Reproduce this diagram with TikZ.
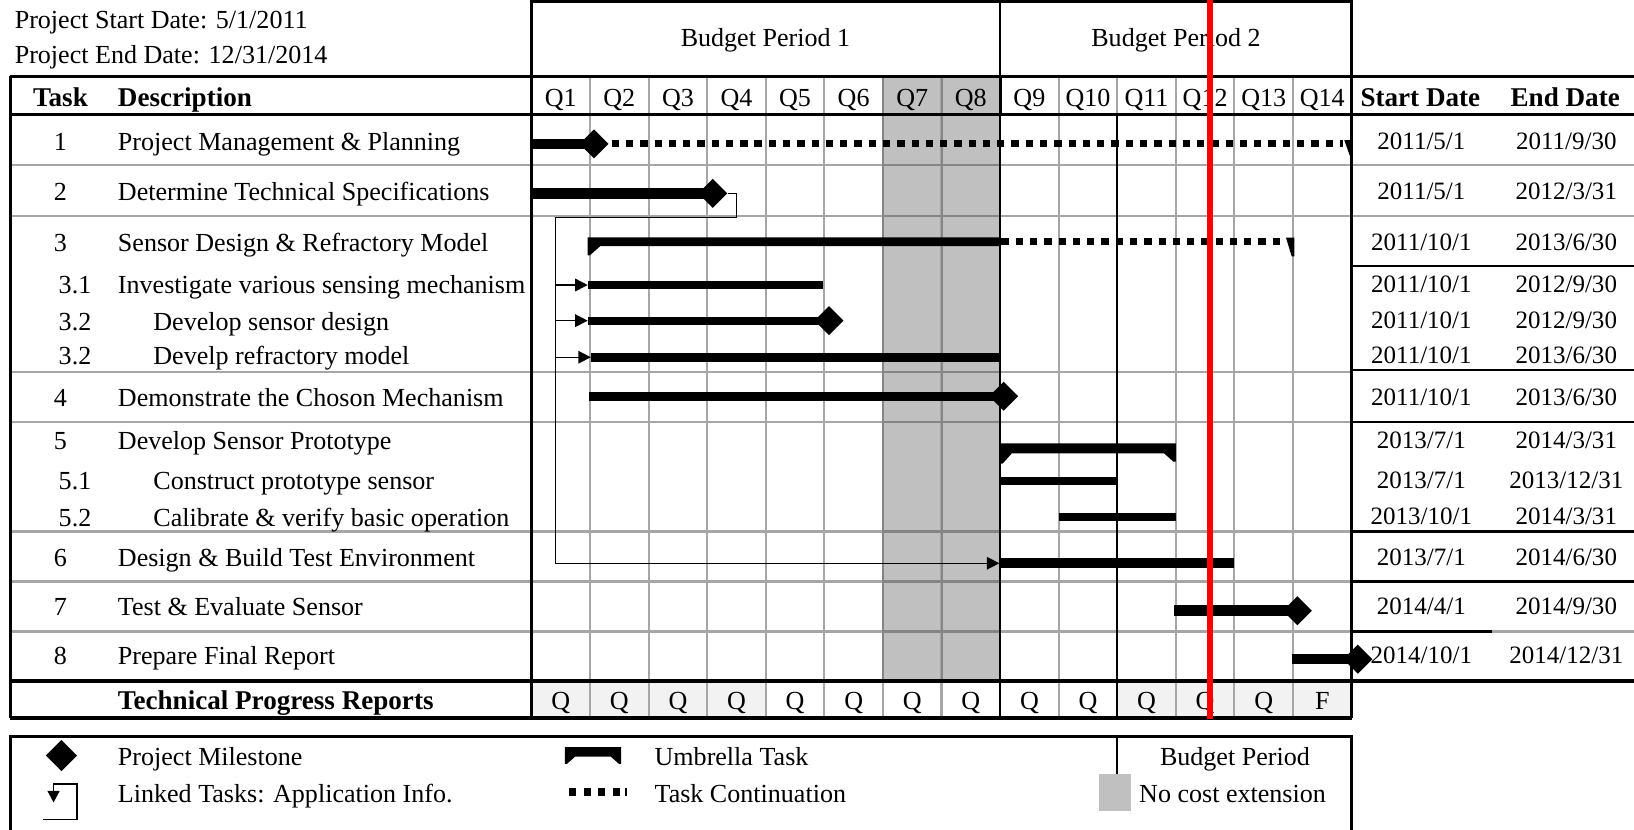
\documentclass[tikz,border=0pt]{standalone}
\usepackage{fontspec}
\setmainfont{Liberation Serif}
\usetikzlibrary{shapes.geometric,arrows.meta}
\definecolor{gridgray}{HTML}{A6A6A6}
\definecolor{darkgrid}{HTML}{858585}
\definecolor{shadegray}{HTML}{C0C0C0}
\definecolor{lightfill}{HTML}{F2F2F2}
\begin{document}
\begin{tikzpicture}[x=1pt,y=-1pt,
  txt/.style={inner sep=0pt, anchor=base, font=\fontsize{25}{30}\selectfont},
  txtl/.style={txt, anchor=base west},
  btxt/.style={inner sep=0pt, anchor=base, font=\fontsize{26}{30}\selectfont\bfseries},
  btxtl/.style={btxt, anchor=base west},
  datetxt/.style={inner sep=0pt, anchor=base, font=\fontsize{24}{29}\selectfont},
  gridln/.style={draw=gridgray, line width=2pt},
  darkln/.style={draw=darkgrid, line width=2pt},
  blk/.style={draw=black, line width=2pt},
  heavy/.style={draw=black, line width=3pt},
  milestone/.style={diamond, fill=black, inner sep=0pt, minimum width=28pt, minimum height=28pt},
  link/.style={draw=black, line width=1.4pt},
  linkarrow/.style={link, -{Triangle[length=12pt,width=12pt]}},
  contdots/.style={draw=black, line width=7pt, dash pattern=on 7pt off 6.7pt},
]
\useasboundingbox (0,0) rectangle (1568,796);
% shading
\fill[shadegray] (847.3,73) rectangle (959.7,653.5);
\fill[lightfill] (510,653.5) rectangle (734.9,689);
\fill[lightfill] (1072.1,653.5) rectangle (1297,689);
% grid verticals
\foreach \i in {1,...,13} {\draw[gridln] ({510+\i*56.214},73) -- ({510+\i*56.214},689);}
% horizontal row lines
\foreach \yy in {158,207} {\draw[gridln] (10,\yy) -- (1568,\yy);}
\foreach \yy in {357,405,510,558,606} {\draw[gridln] (10,\yy) -- (1297,\yy);}
\foreach \yy in {355,405,510,558} {\draw[blk] (1297,\yy) -- (1568,\yy);}
\draw[blk] (1297,255) -- (1568,255);
\draw[blk] (1297,606) -- (1432,606);
\draw[gridln] (1432,606) -- (1568,606);
% darker lines over the shade
\draw[darkln] (847.3,73) -- (847.3,653.5);
\draw[darkln] (903.5,73) -- (903.5,653.5);
\foreach \yy in {158,207,357,405,510,558,606} {\draw[darkln] (847.3,\yy) -- (959.7,\yy);}
% black structure
\draw[heavy] (510,1.5) rectangle (1297,73);
\draw[blk] (959.7,1.5) -- (959.7,73);
\draw[heavy] (10,73) -- (1568,73);
\draw[heavy] (10,110) -- (1568,110);
\draw[heavy] (10,73) -- (10,689);
\draw[heavy] (510,73) -- (510,110);
\draw[blk] (510,110) -- (510,689);
\draw[heavy] (1297,0) -- (1297,689);
\draw[heavy] (959.7,73) -- (959.7,110);
\draw[draw=black, line width=1.6pt] (959.7,110) -- (959.7,689);
\draw[blk] (1072.1,110) -- (1072.1,689);
\draw[heavy] (10,653.5) -- (1568,653.5);
\draw[heavy] (10,689) -- (1297,689);
% legend frame
\draw[heavy] (10,800) -- (10,707) -- (1297,707) -- (1297,800);
\draw[draw=black, line width=2.5pt] (1072,707) -- (1072,744);
\fill[shadegray] (1055,743) rectangle (1085,778);

% ---- bars ----
% Task 1
\fill (510,133) rectangle (570,143);
\draw[contdots] (587,138) -- (1289,138);
\fill (1290,134.5) -- (1298,134.5) -- (1298,150) -- (1295.5,150) -- cycle;
\node[milestone] (m1) at (570,138) {};
% Task 2
\fill (510,180.5) rectangle (684,190.5);
\node[milestone] (m2) at (684,185.5) {};
% Task 3 umbrella
\fill (564,227.8) -- (959.7,227.8) -- (959.7,236.2) -- (576,236.2) -- (566,245) -- (564,245) -- cycle;
\draw[contdots] (961,232) -- (1233,232);
\fill (1234,228) -- (1242,228) -- (1242,246) -- (1239.5,246) -- cycle;
% 3.1, 3.2, 3.2
\fill (564,269.7) rectangle (790,277.4);
\fill (564,304) rectangle (795,311.4);
\node[milestone] (m32) at (795.5,307.7) {};
\fill (567,338.5) rectangle (959.7,347);
% Task 4
\fill (565.5,376) rectangle (963,384.5);
\node[milestone] (m4) at (963,380.2) {};
% Task 5 umbrella
\fill (959.7,425.5) -- (1128.4,425.5) -- (1128.4,443) -- (1126,443) -- (1117,435) -- (971,435) -- (962,445) -- (959.7,445) -- cycle;
\fill (959.7,458) rectangle (1072.1,465);
\fill (1015.9,492.6) rectangle (1128.4,500);
% Task 6
\fill (959.7,535) rectangle (1184.6,545.4);
% Task 7
\fill (1127,581) rectangle (1245,591);
\node[milestone] (m7) at (1245,586) {};
% Task 8
\fill (1239.5,628) rectangle (1303,637.5);
\node[milestone] (m8) at (1303,632.5) {};

% ---- links ----
\coordinate (lkA) at (706.5,208.5);
\coordinate (lkB) at (533,208.5);
\coordinate (lkC) at (533,540.5);
\coordinate (b31) at (564,273.5);
\coordinate (b32) at (564,307.7);
\coordinate (b33) at (567,342.8);
\coordinate (b6) at (959,540.5);
\draw[link] (m2.east) -| (lkA) -- (lkB) -- (lkC);
\draw[linkarrow] (lkB |- b31) -- (b31);
\draw[linkarrow] (lkB |- b32) -- (b32);
\draw[linkarrow] (lkB |- b33) -- (b33);
\draw[linkarrow] (lkC) -- (b6);

% ---- texts ----
\node[txtl] (psd) at (14,27) {Project Start Date: 5/1/2011};
\node[txtl] (ped) at (14,61) {Project End Date: 12/31/2014};
\node[txt] (bp1) at (734.5,45) {Budget Period 1};
\node[txt] (bp2) at (1128.5,45) {Budget Period 2};
\node[btxt] (hTask) at (58,102) {Task};
\node[btxtl] (hDesc) at (113,102) {Description};
\foreach \i in {1,...,14} {\node[txt] (q\i) at ({510+(\i-0.5)*56.214},102) {Q\i};}
\node[btxt] (hStart) at (1363,102) {Start Date};
\node[btxt] (hEnd) at (1502,102) {End Date};

\node[txt] (n1) at (58,144) {1};
\node[txtl] (d1) at (113,144) {Project Management \& Planning};
\node[txt] (n2) at (58,192) {2};
\node[txtl] (d2) at (113,192) {Determine Technical Specifications};
\node[txt] (n3) at (58,241) {3};
\node[txtl] (d3) at (113,241) {Sensor Design \& Refractory Model};
\node[txt] (n31) at (72,282) {3.1};
\node[txtl] (d31) at (113,282) {Investigate various sensing mechanism};
\node[txt] (n32) at (72,317) {3.2};
\node[txtl] (d32) at (147,317) {Develop sensor design};
\node[txt] (n33) at (72,350) {3.2};
\node[txtl] (d33) at (147,350) {Develp refractory model};
\node[txt] (n4) at (58,390) {4};
\node[txtl] (d4) at (113,390) {Demonstrate the Choson Mechanism};
\node[txt] (n5) at (58,431) {5};
\node[txtl] (d5) at (113,431) {Develop Sensor Prototype};
\node[txt] (n51) at (72,470) {5.1};
\node[txtl] (d51) at (147,470) {Construct prototype sensor};
\node[txt] (n52) at (72,505) {5.2};
\node[txtl] (d52) at (147,505) {Calibrate \& verify basic operation};
\node[txt] (n6) at (58,544) {6};
\node[txtl] (d6) at (113,544) {Design \& Build Test Environment};
\node[txt] (n7) at (58,591) {7};
\node[txtl] (d7) at (113,591) {Test \& Evaluate Sensor};
\node[txt] (n8) at (58,638) {8};
\node[txtl] (d8) at (113,638) {Prepare Final Report};
\node[btxtl] (dtech) at (113,681) {Technical Progress Reports};
\foreach \i in {1,...,13} {\node[txt] (r\i) at ({510+(\i-0.5)*56.214},681) {Q};}
\node[txt] (r14) at ({510+13.5*56.214},681) {F};

% dates
\foreach \nm/\yy/\sd/\ed in {1/143/2011\slash 5\slash 1/2011\slash 9\slash 30,
  2/191/2011\slash 5\slash 1/2012\slash 3\slash 31,
  3/240/2011\slash 10\slash 1/2013\slash 6\slash 30,
  31/281/2011\slash 10\slash 1/2012\slash 9\slash 30,
  32/315/2011\slash 10\slash 1/2012\slash 9\slash 30,
  33/349/2011\slash 10\slash 1/2013\slash 6\slash 30,
  4/389/2011\slash 10\slash 1/2013\slash 6\slash 30,
  5/430/2013\slash 7\slash 1/2014\slash 3\slash 31,
  51/469/2013\slash 7\slash 1/2013\slash 12\slash 31,
  52/503/2013\slash 10\slash 1/2014\slash 3\slash 31,
  6/543/2013\slash 7\slash 1/2014\slash 6\slash 30,
  7/590/2014\slash 4\slash 1/2014\slash 9\slash 30,
  8/637/2014\slash 10\slash 1/2014\slash 12\slash 31}
  {\node[datetxt] (s\nm) at (1364,\yy) {\sd};
   \node[datetxt] (e\nm) at (1503,\yy) {\ed};}

% legend
\node[milestone, minimum width=30pt, minimum height=30pt] (mL) at (59,725) {};
\node[txtl] (lg1) at (113,735) {Project Milestone};
\coordinate (liA) at (51.4,752.4);
\coordinate (liB) at (73.7,786.3);
\coordinate (liC) at (41,786.3);
\coordinate (liT) at (51.4,770);
\draw[link] (liT) -- (liA) -| (liB) -- (liC);
\fill (45.5,759) -- (57.3,759) -- (51.4,770) -- cycle;
\node[txtl] (lg2) at (113,770) {Linked Tasks: Application Info.};
\fill (542,717) -- (596,717) -- (596,733) -- (594,733) -- (586,726) -- (552,726) -- (544,733) -- (542,733) -- cycle;
\node[txtl] (lg3) at (628,735) {Umbrella Task};
\foreach \xx in {546,560,574,588} {\fill (\xx,756.5) rectangle (\xx+7,763.5);}
\fill (600,756.5) rectangle (602,763.5);
\node[txtl] (lg4) at (628,770) {Task Continuation};
\node[txt] (lg5) at (1185,735) {Budget Period};
\node[txtl] (lg6) at (1093,770) {No cost extension};

% red marker line
\draw[draw=red, line width=6.3pt] (1161,0) -- (1161,690);
\end{tikzpicture}
\end{document}
